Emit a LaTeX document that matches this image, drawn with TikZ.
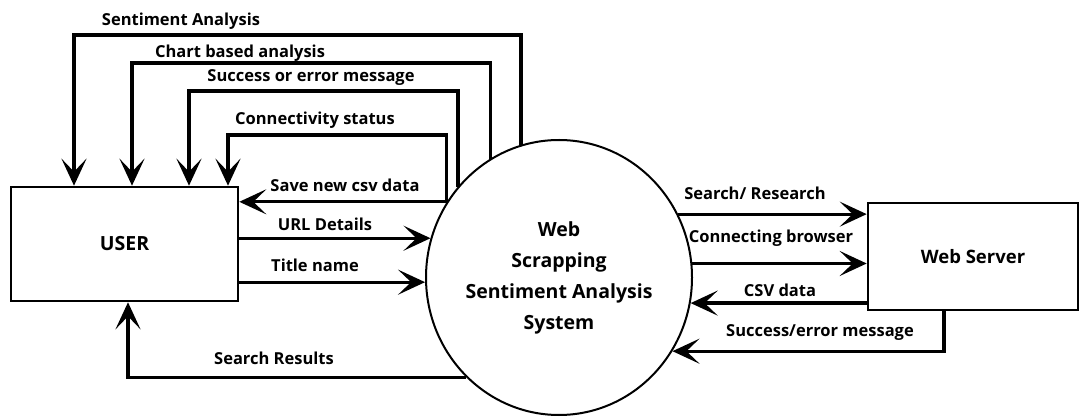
\documentclass[tikz,border=0pt]{standalone}
\usepackage{fontspec}
\setmainfont{Open Sans}
\usetikzlibrary{arrows.meta,shapes.geometric}
\definecolor{linecolor}{HTML}{000000}
\tikzstyle{entitybox} = [
    draw=linecolor,
    line width=2.6pt,
    rectangle,
    inner sep=0pt,
    font=\bfseries\fontsize{19.5}{24}\selectfont
    ]
\tikzstyle{processcircle} = [
    draw=linecolor,
    line width=2pt,
    ellipse,
    inner sep=0pt,
    minimum width=266pt,
    minimum height=275pt,
    align=center,
    font=\bfseries\fontsize{19.5}{31}\selectfont
    ]
\tikzstyle{flowlabel} = [
    inner sep=0pt,
    font=\bfseries\fontsize{16.5}{20}\selectfont
    ]
\tikzstyle{flow} = [
    draw=linecolor,
    line width=3.2pt,
    -{Stealth[length=27pt,width=25pt,inset=13pt]}
    ]
\begin{document}
\begin{tikzpicture}[x=1pt,y=-1pt]
\useasboundingbox (0,0) rectangle (1084,419);

\node[entitybox, minimum width=227pt, minimum height=114pt] (user) at (124.5,244) {USER};
\node[processcircle] (sys) at (559,277.5) {Web\\Scrapping\\Sentiment Analysis\\System};
\node[entitybox, minimum width=210pt, minimum height=107pt, font=\bfseries\fontsize{18.5}{22}\selectfont] (server) at (973,256.5) {Web Server};

% outputs back to the user, over the top
\coordinate (sa) at (74,35);
\coordinate (ca) at (132,63);
\coordinate (se) at (189,91);
\coordinate (cs) at (228,135);
\draw[flow] (sys.106.1) |- (sa) -- (sa |- user.north);
\draw[flow] (sys.120.4) |- (ca) -- (ca |- user.north);
\draw[flow] (sys.138.5) |- (se) -- (se |- user.north);
\draw[flow] (sys.146.5) |- (cs) -- (cs |- user.north);

\draw[flow] (sys.146.3) -- (sys.146.3 -| user.east);
\draw[flow] (user.east |- sys.163.2) -- (sys.163.2);
\draw[flow] (user.east |- sys.182.4) -- (sys.182.4);

\coordinate (sr) at (128,377);
\draw[flow] (sys.227.3) -| (sr |- user.south);

% web server side
\draw[flow] (sys.28.8) -- (sys.28.8 -| server.west);
\draw[flow] (sys.6.7) -- (sys.6.7 -| server.west);
\draw[flow] (sys.-11 -| server.west) -- (sys.-11);
\coordinate (sm) at (944,352);
\draw[flow] (sm |- server.south) |- (sys.-33.7);

\node[flowlabel] (lsa) at (181,21) {Sentiment Analysis};
\node[flowlabel] (lca) at (240,53) {Chart based analysis};
\node[flowlabel] (lse) at (311,78) {Success or error message};
\node[flowlabel] (lcs) at (315,120) {Connectivity status};
\node[flowlabel] (lsv) at (345,185) {Save new csv data};
\node[flowlabel] (lurl) at (325,224) {URL Details};
\node[flowlabel] (ltn) at (315,265) {Title name};
\node[flowlabel] (lsr) at (274,358) {Search Results};
\node[flowlabel] (lrs) at (755,193) {Search/ Research};
\node[flowlabel] (lcb) at (771,238) {Connecting browser};
\node[flowlabel] (lcsv) at (780,290) {CSV data};
\node[flowlabel] (lsm) at (820,333) {Success/error message};
\end{tikzpicture}
\end{document}
